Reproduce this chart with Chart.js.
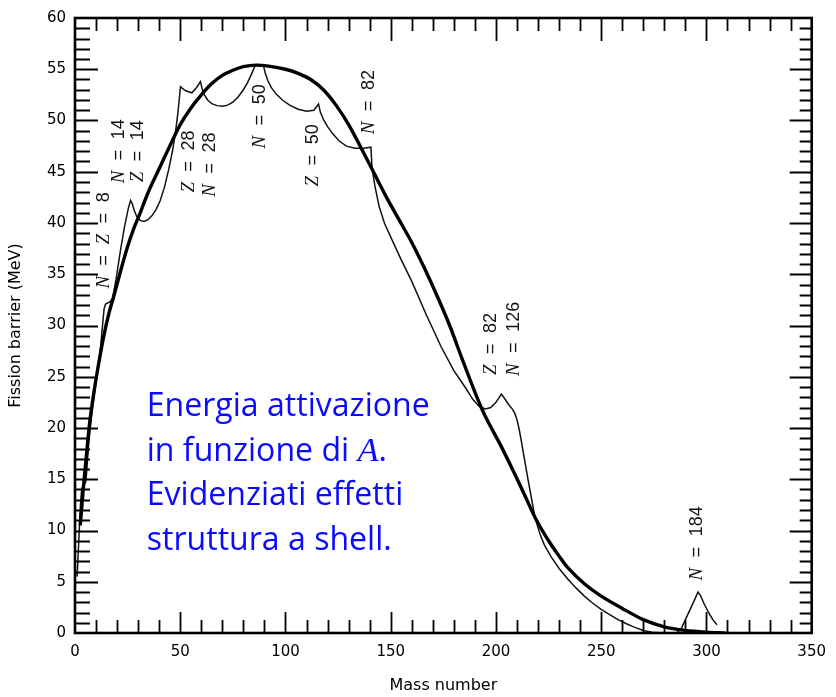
<!DOCTYPE html>
<html>
<head>
<meta charset="utf-8">
<script src="https://cdn.jsdelivr.net/npm/chart.js@4.4.1/dist/chart.umd.min.js"></script>
<style>
  html, body { margin: 0; padding: 0; background: #ffffff; }
  #wrap { width: 836px; height: 697px; position: relative; }
</style>
</head>
<body>
<div id="wrap"><canvas id="c"></canvas></div>
<script>
// ---- Data ----
// Smooth liquid-drop curve (thick)
const dropMass = [2.5, 4, 5.5, 7, 9, 11, 13.5, 16, 18.5, 21.5, 25, 28, 30.4, 35, 40, 45, 50, 55, 60, 65, 70, 75, 80, 86, 92, 100, 106, 112, 118, 124, 130, 136, 142, 148, 154, 160, 166, 172, 178, 184, 190, 193, 196, 202, 208, 214, 219, 225, 230, 234, 242, 250, 260, 270, 280, 290, 300, 309];
const dropBarrier = [10.5, 14.2, 17.5, 20.6, 23.5, 26, 28.8, 31.1, 32.9, 35.2, 37.7, 39.5, 40.7, 43.1, 45.3, 47.5, 49.6, 51.2, 52.5, 53.6, 54.4, 54.9, 55.25, 55.4, 55.3, 55, 54.6, 54.0, 53.0, 51.5, 49.6, 47.3, 44.9, 42.5, 40.3, 38.1, 35.6, 32.9, 30, 26.7, 23.5, 22, 20.7, 18.4, 15.9, 13.3, 11.1, 9.0, 7.5, 6.4, 4.8, 3.6, 2.4, 1.3, 0.6, 0.25, 0.08, 0];

// Curve with shell effects (thin)
const shellMass = [1, 1.8, 2.6, 3.2, 4.2, 5.2, 6.5, 8, 10, 12, 13.8, 14.5, 16.5, 17.8, 19.5, 21.5, 23.5, 25.3, 26.4, 27.2, 28.2, 29.4, 31, 32.8, 34.5, 36.5, 38.5, 40.5, 42.5, 44.5, 46.3, 47.7, 48.8, 49.5, 50.1, 52.5, 55.5, 57.7, 59.6, 60.4, 61.5, 63, 65, 67.5, 70, 72.5, 75, 77.5, 80, 82, 84, 85.7, 89.6, 90.4, 91.6, 93.3, 95.5, 98.5, 102, 106, 110, 113.5, 115.7, 116.6, 118, 120, 122.5, 125.5, 129, 133, 137, 140.6, 141.1, 142.5, 144.5, 147, 150.5, 155, 160, 167, 174, 180, 185.3, 189, 192, 195, 197.5, 200, 202.6, 204, 206, 208, 209, 210, 211, 212, 213.5, 215.3, 217, 218.5, 221, 223, 226, 230, 234, 238, 242, 246, 250, 254, 258, 262, 266, 270, 274, 280, 286, 288, 290, 292.5, 294.5, 296, 297.3, 299, 301, 303, 305];
const shellBarrier = [5.5, 9, 12.5, 14.1, 14.4, 14.8, 18.5, 21.4, 24.6, 27.6, 31.6, 32.1, 32.3, 32.6, 34.5, 37.2, 39.6, 41.4, 42.2, 41.9, 41.2, 40.6, 40.25, 40.15, 40.3, 40.7, 41.3, 42.2, 43.5, 45.2, 47, 48.8, 50.6, 52, 53.3, 52.9, 52.7, 53.2, 53.8, 53.1, 52.5, 52, 51.65, 51.45, 51.4, 51.5, 51.8, 52.3, 53, 53.7, 54.6, 55.4, 55.3, 54.6, 53.9, 53.2, 52.6, 52, 51.5, 51.1, 50.9, 51, 51.6, 50.8, 50.1, 49.4, 48.7, 48, 47.5, 47.3, 47.3, 47.4, 45.4, 43.6, 41.6, 40, 38.4, 36.4, 34.3, 31, 27.9, 25.6, 24, 22.8, 22.1, 21.85, 22, 22.5, 23.3, 22.9, 22.3, 21.8, 21.4, 20.8, 19.9, 18.8, 17, 14.9, 13, 11.3, 9.6, 8.6, 7.5, 6.3, 5.3, 4.4, 3.6, 2.9, 2.3, 1.8, 1.3, 0.9, 0.55, 0.25, 0.08, 0, 0.05, 0.4, 1.3, 2.4, 3.3, 4.0, 3.6, 2.8, 2.0, 1.3, 0.8];

// Axis ranges and ticks
const xMin = 0, xMax = 350, xLabelStep = 50, xMinorStep = 10;
const yMin = 0, yMax = 60, yLabelStep = 5, yMinorStep = 1;

// Shell closure labels and their anchor (mass number, barrier)
const shellLabels = ["N = Z = 8", "N = 14", "Z = 14", "Z = 28", "N = 28", "N = 50", "Z = 50", "N = 82", "Z = 82", "N = 126", "N = 184"];
const shellLabelMass = [14, 20.9, 29.9, 54, 64.3, 88, 113.3, 139.7, 197.8, 208.4, 295.5];
const shellLabelBarrier = [38.3, 47, 47, 46, 45.7, 50.4, 46.6, 51.8, 28.2, 28.7, 8.75];

// Blue caption
const captionLines = ["Energia attivazione", "in funzione di |A|.", "Evidenziati effetti", "struttura a shell."];
const captionMass = 34.1;
const captionBarrier = [21.2, 16.8, 12.45, 8.07];

const toXY = (xs, ys) => xs.map((x, i) => ({ x: x, y: ys[i] }));

// ---- plugins ----
const framePlugin = {
  id: 'frame',
  afterDraw(chart) {
    const { ctx, chartArea: ca, scales: { x: xs, y: ys } } = chart;
    ctx.save();
    ctx.strokeStyle = '#000';
    ctx.lineCap = 'butt';
    // ticks
    ctx.lineWidth = 1.8;
    ctx.beginPath();
    for (let v = xMin + xMinorStep; v < xMax; v += xMinorStep) {
      const px = Math.round(xs.getPixelForValue(v)) + 0.5;
      const major = v % xLabelStep === 0;
      const lb = major ? 21 : 13;
      const lt = major ? 23 : 13;
      ctx.moveTo(px, ca.bottom); ctx.lineTo(px, ca.bottom - lb);
      ctx.moveTo(px, ca.top); ctx.lineTo(px, ca.top + lt);
    }
    for (let v = yMin + yMinorStep; v < yMax; v += yMinorStep) {
      const py = Math.round(ys.getPixelForValue(v)) + 0.5;
      const major = v % yLabelStep === 0;
      const ll = major ? 23 : 15;
      const lr = major ? 22 : 12;
      ctx.moveTo(ca.left, py); ctx.lineTo(ca.left + ll, py);
      ctx.moveTo(ca.right, py); ctx.lineTo(ca.right - lr, py);
    }
    ctx.stroke();
    // frame
    ctx.lineWidth = 2.6;
    ctx.strokeRect(ca.left, ca.top, ca.right - ca.left, ca.bottom - ca.top);
    ctx.restore();
  }
};

function drawMixed(ctx, text, cx, cy) {
  const tokens = text.split(' ');
  const gap = 10.5;
  const fontFor = t => (t === 'N' || t === 'Z') ? 'italic 19px "Liberation Serif"' : '18px "Liberation Sans"';
  let total = 0;
  const widths = tokens.map(t => { ctx.font = fontFor(t); const w = ctx.measureText(t).width; total += w; return w; });
  total += gap * (tokens.length - 1);
  ctx.save();
  ctx.translate(cx, cy);
  ctx.rotate(-Math.PI / 2);
  ctx.fillStyle = '#111';
  ctx.textBaseline = 'middle';
  ctx.textAlign = 'left';
  let x = -total / 2;
  tokens.forEach((t, i) => {
    ctx.font = fontFor(t);
    ctx.fillText(t, x, 0);
    x += widths[i] + gap;
  });
  ctx.restore();
}

const labelPlugin = {
  id: 'labels',
  afterDatasetsDraw(chart) {
    const { ctx, scales: { x: xs, y: ys } } = chart;
    shellLabels.forEach((t, i) => {
      drawMixed(ctx, t, xs.getPixelForValue(shellLabelMass[i]), ys.getPixelForValue(shellLabelBarrier[i]));
    });
    // caption
    ctx.save();
    ctx.fillStyle = '#0a0aff';
    ctx.textBaseline = 'alphabetic';
    ctx.textAlign = 'left';
    ctx.font = '28px "Open Sans"';
    const w0 = ctx.measureText(captionLines[0]).width;
    const size = 28 * 283 / w0;
    const sansFont = size.toFixed(2) + 'px "Open Sans"';
    const mathFont = 'italic ' + (size * 1.08).toFixed(2) + 'px "Liberation Serif"';
    const px0 = xs.getPixelForValue(captionMass);
    captionLines.forEach((line, i) => {
      const py = ys.getPixelForValue(captionBarrier[i]);
      const parts = line.split('|');
      let x = px0;
      parts.forEach((p, j) => {
        ctx.font = (j % 2 === 1) ? mathFont : sansFont;
        ctx.fillText(p, x, py);
        x += ctx.measureText(p).width;
      });
    });
    ctx.restore();
  }
};

const tickFont = { family: 'DejaVu Sans', size: 15 };
const titleFont = { family: 'DejaVu Sans', size: 16 };

new Chart(document.getElementById('c'), {
  type: 'line',
  data: {
    datasets: [
      {
        data: toXY(dropMass, dropBarrier),
        borderColor: '#000',
        borderWidth: 3.4,
        pointRadius: 0,
        tension: 0.3,
        fill: false
      },
      {
        data: toXY(shellMass, shellBarrier),
        borderColor: '#111',
        borderWidth: 1.5,
        pointRadius: 0,
        tension: 0,
        fill: false
      }
    ]
  },
  options: {
    responsive: true,
    maintainAspectRatio: false,
    animation: false,
    events: [],
    layout: { padding: { top: 16, right: 23, left: 0, bottom: 0 } },
    plugins: { legend: { display: false }, tooltip: { enabled: false } },
    scales: {
      x: {
        type: 'linear', min: xMin, max: xMax,
        ticks: { stepSize: xLabelStep, font: tickFont, color: '#000', padding: 10, maxRotation: 0 },
        grid: { display: false, drawTicks: false },
        border: { display: false },
        title: { display: true, text: 'Mass number', font: titleFont, color: '#000', padding: { top: 0, bottom: 2 } },
        afterFit(s) { s.height = 64; }
      },
      y: {
        type: 'linear', min: yMin, max: yMax,
        ticks: { stepSize: yLabelStep, font: tickFont, color: '#000', padding: 9 },
        grid: { display: false, drawTicks: false },
        border: { display: false },
        title: { display: true, text: 'Fission barrier (MeV)', font: titleFont, color: '#000', padding: { top: 6, bottom: 0 } },
        afterFit(s) { s.width = 75; }
      }
    }
  },
  plugins: [framePlugin, labelPlugin]
});
</script>
</body>
</html>
